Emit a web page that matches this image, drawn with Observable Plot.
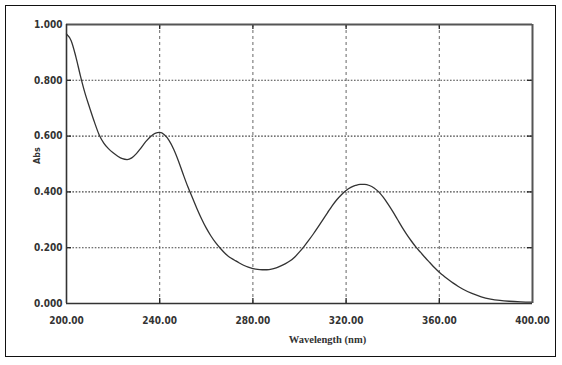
<!DOCTYPE html>
<html>
<head>
<meta charset="utf-8">
<script src="https://cdn.jsdelivr.net/npm/d3@7"></script>
<script src="https://cdn.jsdelivr.net/npm/@observablehq/plot@0.6"></script>
<style>
  html, body { margin: 0; padding: 0; background: #fff; }
  #wrap { position: relative; width: 562px; height: 365px; }
  #box { position: absolute; left: 5px; top: 5px; width: 551px; height: 352px; border: 1.5px solid #111; box-sizing: border-box; }
  #chart { position: absolute; left: 0; top: 0; }
</style>
</head>
<body>
<div id="wrap"><div id="box"></div><div id="chart"></div></div>
<script>
// Wavelength (nm)
const wavelength = [200,202,204,206,208,210,212,214,216,218,220,222,224,226,228,230,232,234,236,238,240,242,244,246,248,250,252,254,256,258,260,262,264,266,268,270,272,274,276,278,280,282,284,286,288,290,292,294,296,298,300,302,304,306,308,310,312,314,316,318,320,322,324,326,328,330,332,334,336,338,340,342,344,346,348,350,352,354,356,358,360,362,364,366,368,370,374,378,382,386,390,395,400];
// Absorbance
const absorbance = [0.966,0.942,0.885,0.815,0.752,0.700,0.650,0.605,0.575,0.555,0.54,0.528,0.519,0.516,0.522,0.537,0.558,0.580,0.598,0.610,0.613,0.605,0.585,0.553,0.512,0.465,0.420,0.380,0.340,0.303,0.270,0.242,0.218,0.198,0.180,0.166,0.156,0.146,0.137,0.130,0.125,0.122,0.121,0.121,0.123,0.128,0.135,0.143,0.153,0.167,0.185,0.205,0.227,0.250,0.275,0.300,0.325,0.350,0.372,0.390,0.405,0.416,0.423,0.427,0.427,0.423,0.414,0.400,0.380,0.356,0.330,0.302,0.274,0.248,0.224,0.202,0.183,0.164,0.146,0.128,0.112,0.098,0.085,0.073,0.062,0.052,0.036,0.024,0.016,0.011,0.008,0.006,0.005];
const xTicks = [200,240,280,320,360,400];
const yTicks = [0,0.2,0.4,0.6,0.8,1.0];
const xGrid = [240,280,320,360];
const yGrid = [0.2,0.4,0.6,0.8];
const xLabel = "Wavelength (nm)";
const yLabel = "Abs";

const data = wavelength.map((w, i) => ({w, a: absorbance[i]}));

const W = 562, H = 365, mL = 66, mR = 30, mT = 24, mB = 62;
const pw = W - mL - mR, ph = H - mT - mB;
const tickFont = "'Liberation Sans Narrow', 'DejaVu Sans Condensed', sans-serif";

const chart = Plot.plot({
  width: W, height: H,
  marginLeft: mL, marginRight: mR, marginTop: mT, marginBottom: mB,
  x: {domain: [200, 400]},
  y: {domain: [0, 1]},
  style: {background: "transparent"},
  marks: [
    Plot.ruleY(yGrid, {stroke: "#444", strokeWidth: 1.1, strokeDasharray: "1.6,1.6"}),
    Plot.ruleX(xGrid, {stroke: "#666", strokeWidth: 1, strokeDasharray: "3,3"}),
    // inward tick marks
    Plot.tickY(yGrid, {y: d => d, stroke: "#222", strokeWidth: 1.3, insetRight: pw - 5}),
    Plot.tickY(yGrid, {y: d => d, stroke: "#222", strokeWidth: 1.3, insetLeft: pw - 5}),
    Plot.tickX(xGrid, {x: d => d, stroke: "#222", strokeWidth: 1.3, insetTop: ph - 5}),
    Plot.tickX(xGrid, {x: d => d, stroke: "#222", strokeWidth: 1.3, insetBottom: ph - 5}),
    Plot.line(data, {x: "w", y: "a", stroke: "#333", strokeWidth: 1.3, curve: "monotone-x"}),
    // frame
    Plot.ruleY([1], {stroke: "#555", strokeWidth: 2}),
    Plot.ruleX([400], {stroke: "#555", strokeWidth: 2}),
    Plot.ruleY([0], {stroke: "#333", strokeWidth: 1.6}),
    Plot.ruleX([200], {stroke: "#333", strokeWidth: 1.6}),
    Plot.axisY({ticks: yTicks, tickFormat: d3.format(".3f"), tickSize: 0, tickPadding: 4, label: null,
      fontFamily: tickFont, fontWeight: "bold", fontSize: 10, fill: "#333"}),
    Plot.axisX({ticks: xTicks, tickFormat: d3.format(".2f"), tickSize: 0, tickPadding: 13, label: null,
      fontFamily: tickFont, fontWeight: "bold", fontSize: 10, fill: "#333"}),
    Plot.text([xLabel], {text: d => d, frameAnchor: "bottom", dy: 39, dx: 28,
      fontFamily: "'Liberation Serif', serif", fontWeight: "bold", fontSize: 10.5, fill: "#333"}),
    Plot.text([yLabel], {text: d => d, frameAnchor: "left", dx: -29, rotate: -90,
      fontFamily: "'DejaVu Sans', sans-serif", fontWeight: "bold", fontSize: 8, fill: "#333"})
  ]
});
document.getElementById("chart").appendChild(chart);
</script>
</body>
</html>
